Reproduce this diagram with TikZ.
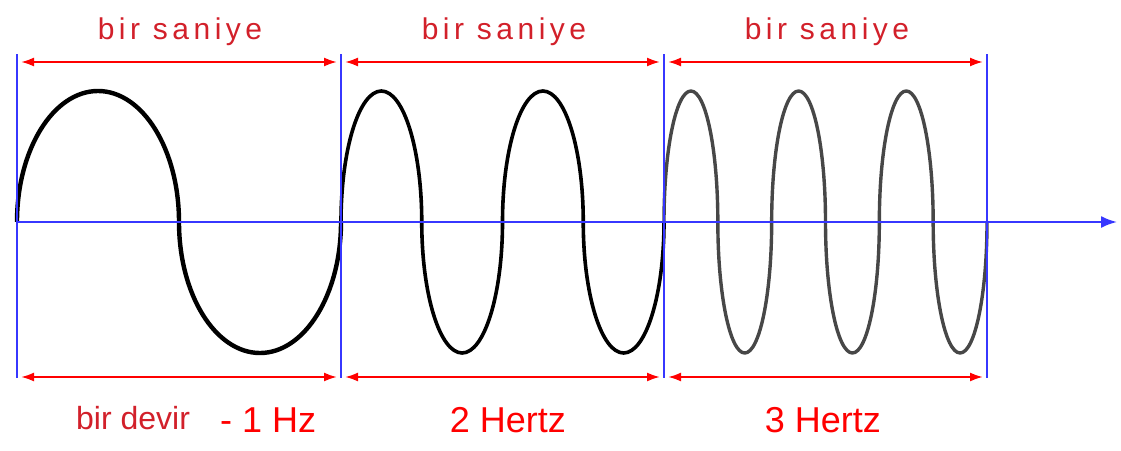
\documentclass[tikz,border=0pt]{standalone}
\usepackage{fontspec}
\setmainfont{Liberation Sans}
\newfontfamily\spacedfont[LetterSpace=15]{Liberation Sans}
\usetikzlibrary{arrows.meta}
\definecolor{darkred}{RGB}{210,32,42}
\definecolor{brightred}{RGB}{255,0,0}
\definecolor{axisblue}{RGB}{55,55,255}
\tikzset{
  divider/.style={draw=axisblue, line width=2pt},
  span/.style={draw=brightred, line width=2pt, {Latex[length=13pt,width=9pt]}-{Latex[length=13pt,width=9pt]}},
  wave/.style={line width=4pt, line join=round},
  hup/.style={start angle=180, end angle=0, x radius=#1, y radius=131pt},
  hdown/.style={start angle=180, end angle=360, x radius=#1, y radius=131pt},
  toplabel/.style={text=darkred, font=\spacedfont\fontsize{30}{34}\selectfont, anchor=base, inner sep=0pt},
  botlabel/.style={text=brightred, font=\fontsize{36}{40}\selectfont, anchor=base, inner sep=0pt},
}
\begin{document}
\begin{tikzpicture}[x=1pt,y=-1pt]
\useasboundingbox (0,0) rectangle (1121,450);
% divider coordinates
\foreach \n/\x in {0/17,1/341,2/664,3/987}{
  \coordinate (t\n) at (\x,54);
  \coordinate (b\n) at (\x,378);
  \coordinate (z\n) at (\x,222);
}
\coordinate (axisL) at (17,222);
\coordinate (axisR) at (1117,222);
% waves (semi-elliptic lobes)
\draw[wave, line width=4.4pt, black] (z0) arc[hup=81pt] arc[hdown=81pt];
\draw[wave, line width=3.6pt, black] (z1)
  arc[hup=40.375pt] arc[hdown=40.375pt] arc[hup=40.375pt] arc[hdown=40.375pt];
\draw[wave, line width=3.4pt, black!72] (z2)
  arc[hup=26.9167pt] arc[hdown=26.9167pt] arc[hup=26.9167pt] arc[hdown=26.9167pt]
  arc[hup=26.9167pt] arc[hdown=26.9167pt];
% axis
\draw[divider, -{Latex[length=16pt,width=12pt]}] (axisL) -- (axisR);
% dividers
\foreach \n in {0,1,2,3}{
  \draw[divider] (t\n) -- (b\n);
}
% spans
\foreach \a/\b in {0/1,1/2,2/3}{
  \draw[span, shorten <=4pt, shorten >=4pt] ([yshift=-8pt]t\a) -- ([yshift=-8pt]t\b);
  \draw[span, shorten <=4pt, shorten >=4pt] ([yshift=1pt]b\a) -- ([yshift=1pt]b\b);
}
% labels
\node[toplabel] (s1) at (180,39) {bir saniye};
\node[toplabel] (s2) at (504,39) {bir saniye};
\node[toplabel] (s3) at (827,39) {bir saniye};
\node[text=darkred, font=\fontsize{32}{36}\selectfont, anchor=base west, inner sep=0pt] (cyc) at (76,429) {bir devir};
\node[botlabel, anchor=base west] (hz1) at (220,432) {- 1 Hz};
\node[botlabel] (hz2) at (508,432) {2 Hertz};
\node[botlabel] (hz3) at (823,432) {3 Hertz};
\end{tikzpicture}
\end{document}
